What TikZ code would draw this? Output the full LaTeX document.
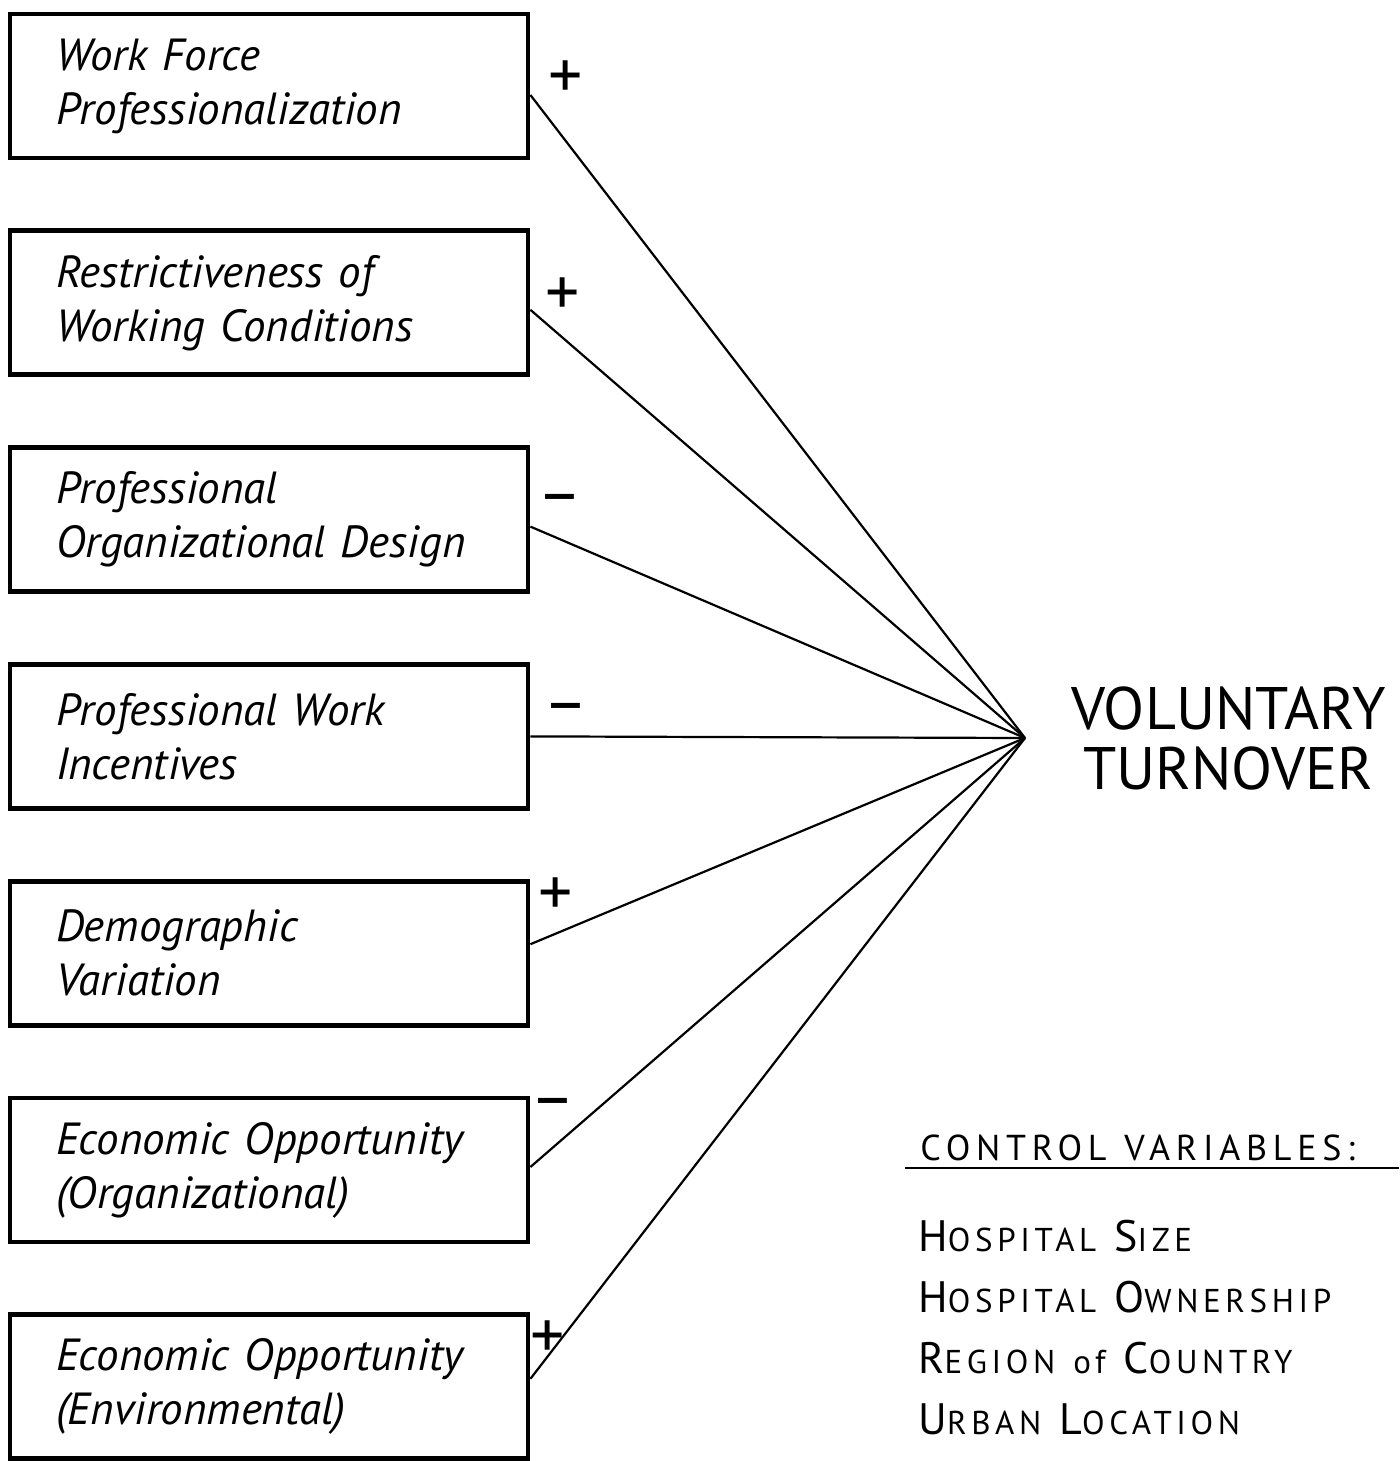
\documentclass[tikz,border=0pt]{standalone}
\usepackage{fontspec}
\setmainfont{PT Sans}
\usetikzlibrary{positioning}

\newcommand{\smc}[2]{{\fontsize{22}{30.5}\selectfont #1}{\fontsize{16.5}{30.5}\selectfont #2}}
\newcommand{\gap}{\hspace{9pt}}

\begin{document}
\begin{tikzpicture}[
        x=0.5pt, y=-0.5pt,
        node distance=34pt,
        factor/.style={rectangle, draw, line width=2.4pt, minimum width=259pt, minimum height=72pt, text width=213pt, inner xsep=23pt, align=left, font=\fontsize{22.5}{27}\selectfont\itshape},
        link/.style={line width=1.1pt},
        sign/.style={font=\fontsize{34}{34}\selectfont, inner sep=0pt},
        outcome/.style={font=\fontsize{30}{30}\selectfont, align=center, inner sep=0pt},
        ctrlhead/.style={font=\fontsize{18}{20}\selectfont\addfontfeature{LetterSpace=16}, inner sep=0pt},
        ctrllist/.style={font=\fontsize{16.5}{30.5}\selectfont\addfontfeature{LetterSpace=14}, align=left, inner sep=0pt}
    ]
    \useasboundingbox (0,0) rectangle (1399,1461);

    \node[factor] (wfp) at (269,86) {Work Force\\Professionalization};
    \node[factor, below=of wfp] (rwc) {Restrictiveness of\\Working Conditions};
    \node[factor, below=of rwc] (pod) {Professional\\Organizational Design};
    \node[factor, below=of pod] (pwi) {Professional Work\\Incentives};
    \node[factor, below=of pwi] (dv) {Demographic\\Variation};
    \node[factor, below=of dv] (eoo) {Economic Opportunity\\(Organizational)};
    \node[factor, below=of eoo] (eoe) {Economic Opportunity\\(Environmental)};

    \coordinate (hub) at (1025,738);
    \node[outcome, right=23pt of hub] (turnover) {VOLUNTARY\\TURNOVER};

\draw[link] ([yshift=-4.5pt]wfp.east) -- (hub);
\draw[link] ([yshift=-3.5pt]rwc.east) -- (hub);
\draw[link] ([yshift=-3.5pt]pod.east) -- (hub);
\draw[link] (pwi.east) -- (hub);
\draw[link] ([yshift=4.5pt]dv.east) -- (hub);
\draw[link] ([yshift=1.5pt]eoo.east) -- (hub);
\draw[link] ([yshift=4pt]eoe.east) -- (hub);

    \node[sign] (s1) at (566,80) {+};
    \node[sign] (s2) at (563,297) {+};
    \node[sign] (s3) at (560,505) {--};
    \node[sign] (s4) at (566,714) {--};
    \node[sign] (s5) at (556,897) {+};
    \node[sign] (s6) at (553,1109) {--};
    \node[sign] (s7) at (548,1340) {+};

    \node[ctrlhead, anchor=base west] (ctrl) at (920,1160) {CONTROL\gap VARIABLES:};
    \draw[line width=1.2pt] (905,1168) -- (1399,1168);
    \node[ctrllist, anchor=north west] (ctrllist) at (918,1220) {\smc{H}{OSPITAL}\gap\smc{S}{IZE}\\\smc{H}{OSPITAL}\gap\smc{O}{WNERSHIP}\\\smc{R}{EGION}\gap of\gap\smc{C}{OUNTRY}\\\smc{U}{RBAN}\gap\smc{L}{OCATION}};

    \end{tikzpicture}
\end{document}
